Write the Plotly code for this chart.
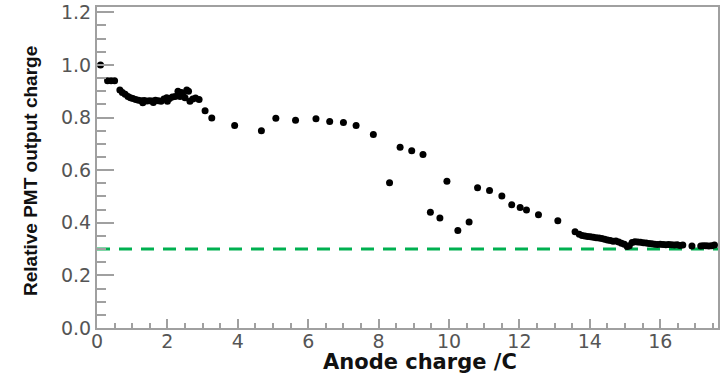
import plotly.graph_objects as go

# ---- data ----
anode_charge = [
    0.1, 0.3, 0.4, 0.5,
    0.65, 0.72, 0.8, 0.88, 0.95, 1.02, 1.1, 1.18, 1.26, 1.3, 1.34, 1.42, 1.5, 1.58, 1.6,
    1.66, 1.74, 1.82, 1.9, 1.98, 2.0, 2.06, 2.14, 2.22, 2.3, 2.36, 2.4, 2.44, 2.5, 2.55,
    2.6, 2.64, 2.72, 2.8, 2.9,
    3.07, 3.26, 3.91, 4.67, 5.08, 5.64, 6.22, 6.61, 7.0, 7.36, 7.85,
    8.31, 8.61, 8.94, 9.26, 9.47, 9.74, 9.94, 10.25, 10.57, 10.81, 11.15, 11.5,
    11.78, 12.02, 12.2, 12.54, 13.09, 13.58,
    13.7, 13.78, 13.86, 13.94, 14.02, 14.1, 14.18, 14.26, 14.34, 14.42, 14.5, 14.58,
    14.66, 14.74, 14.82, 14.9, 14.98, 15.06, 15.12, 15.2, 15.28, 15.36, 15.44, 15.52,
    15.6, 15.68, 15.76, 15.84, 15.92, 16.0, 16.08, 16.16, 16.24, 16.32, 16.4, 16.48,
    16.56, 16.64, 16.9, 17.15, 17.22, 17.3, 17.38, 17.46, 17.54,
]
relative_output = [
    1.0, 0.94, 0.94, 0.94,
    0.905, 0.895, 0.888, 0.88, 0.875, 0.872, 0.868, 0.866, 0.864, 0.856, 0.865, 0.863, 0.864, 0.863, 0.857,
    0.866, 0.864, 0.862, 0.87, 0.875, 0.862, 0.872, 0.878, 0.88, 0.9, 0.88, 0.895, 0.885, 0.875, 0.905,
    0.9, 0.862, 0.87, 0.874, 0.868,
    0.826, 0.798, 0.77, 0.75, 0.797, 0.79, 0.795, 0.785, 0.781, 0.77, 0.735,
    0.552, 0.687, 0.674, 0.659, 0.44, 0.418, 0.558, 0.371, 0.403, 0.533, 0.523, 0.502,
    0.468, 0.458, 0.448, 0.43, 0.408, 0.366,
    0.356, 0.352, 0.35, 0.348, 0.347, 0.345, 0.343, 0.342, 0.34, 0.337, 0.334, 0.333,
    0.33, 0.331, 0.327, 0.322, 0.318, 0.31, 0.313, 0.325, 0.328, 0.327, 0.326, 0.324,
    0.323, 0.321, 0.32, 0.318, 0.317, 0.318, 0.317, 0.316, 0.317, 0.316, 0.315, 0.316,
    0.314, 0.315, 0.312, 0.312, 0.313, 0.313, 0.312, 0.313, 0.315,
]
reference_level = 0.3

x_tick_values = [0, 2, 4, 6, 8, 10, 12, 14, 16]
y_tick_values = [0.0, 0.2, 0.4, 0.6, 0.8, 1.0, 1.2]
y_tick_labels = ["0.0", "0.2", "0.4", "0.6", "0.8", "1.0", "1.2"]

x_title = "Anode charge /C"
y_title = "Relative PMT output charge"

X_MAX = 17.64
Y_MAX = 1.22

fig = go.Figure()

fig.add_trace(go.Scatter(
    x=[0, X_MAX], y=[reference_level, reference_level],
    mode="lines",
    line=dict(color="#00b050", width=3, dash="13px,9px"),
    hoverinfo="skip", showlegend=False,
))

fig.add_trace(go.Scatter(
    x=anode_charge, y=relative_output,
    mode="markers",
    marker=dict(color="black", size=7, line=dict(width=0)),
    showlegend=False,
))

axis_color = "#a0a0a0"

fig.update_layout(
    width=724, height=375,
    margin=dict(l=97, r=6, t=7, b=47, autoexpand=False),
    paper_bgcolor="white", plot_bgcolor="white",
    showlegend=False,
    xaxis=dict(
        range=[0, X_MAX], showgrid=False, zeroline=False, automargin=False,
        showline=True, linecolor=axis_color, linewidth=2, mirror=True,
        tickmode="array", tickvals=x_tick_values,
        ticks="inside", ticklen=9, tickwidth=1.5, tickcolor=axis_color,
        minor=dict(dtick=0.5, ticks="inside", ticklen=5, tickwidth=1.5, tickcolor=axis_color),
        tickfont=dict(family="DejaVu Sans", size=19, color="#555555"),
        ticklabelstandoff=-5,
        ticklabeloverflow="allow",
    ),
    yaxis=dict(
        range=[0, Y_MAX], showgrid=False, zeroline=False, automargin=False,
        showline=True, linecolor=axis_color, linewidth=2, mirror=True,
        tickmode="array", tickvals=y_tick_values, ticktext=y_tick_labels,
        ticks="inside", ticklen=17, tickwidth=1.5, tickcolor=axis_color,
        minor=dict(dtick=0.05, ticks="inside", ticklen=9, tickwidth=1.5, tickcolor=axis_color),
        tickfont=dict(family="DejaVu Sans", size=19, color="#555555"),
        ticklabeloverflow="allow",
    ),
    annotations=[
        dict(text=x_title, xref="paper", yref="paper", x=0.52, y=-0.107,
             showarrow=False, xanchor="center", yanchor="middle",
             font=dict(family="DejaVu Sans", size=21, color="#111111", weight="bold")),
        dict(text=y_title, xref="paper", yref="paper", x=-0.108, y=0.489,
             showarrow=False, xanchor="center", yanchor="middle", textangle=-90,
             font=dict(family="Liberation Sans", size=19, color="#111111", weight="bold")),
    ],
)

fig.write_html(
    "out.html",
    config={"displayModeBar": False},
    post_script="document.body.style.margin='0';document.body.style.overflow='hidden';",
)
